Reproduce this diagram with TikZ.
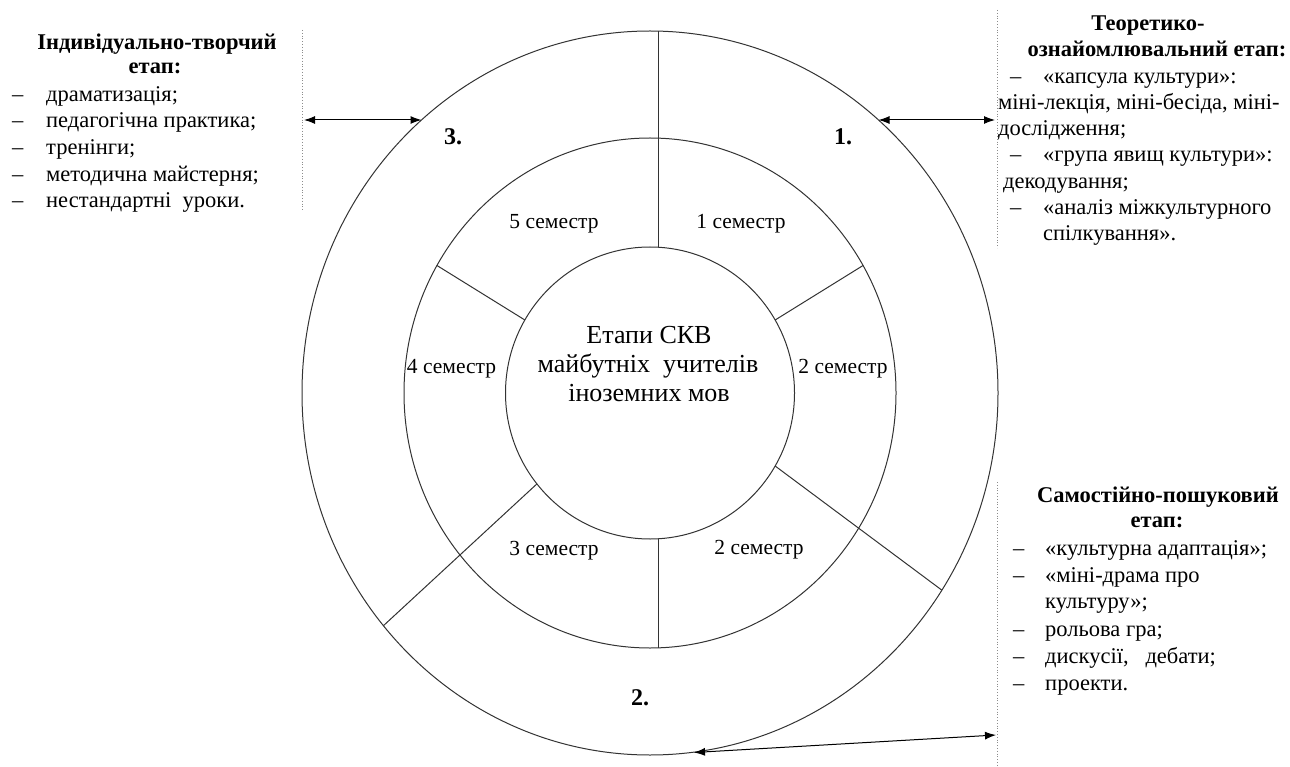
\documentclass[tikz,border=0pt]{standalone}
\usepackage{fontspec}
\setmainfont{Liberation Serif}
\usetikzlibrary{calc,arrows.meta}

\tikzset{
  ring/.style={draw=black!80, line width=1pt},
  divider/.style={draw=black!80, line width=1pt},
  frame/.style={draw=black!45, dotted, line width=0.8pt},
  link/.style={{Latex[length=11pt,width=8pt]}-{Latex[length=11pt,width=8pt]}, line width=1pt, black},
  item/.style={inner sep=0pt, anchor=base west, font=\fontsize{22.5pt}{27pt}\selectfont},
  head/.style={inner sep=0pt, anchor=base, font=\bfseries\fontsize{22.5pt}{27pt}\selectfont},
  sem/.style={inner sep=0pt, anchor=base, font=\fontsize{21.5pt}{26pt}\selectfont},
  stagenum/.style={inner sep=0pt, anchor=base, font=\bfseries\fontsize{24pt}{28pt}\selectfont},
  core/.style={inner sep=0pt, anchor=base, font=\fontsize{26pt}{30pt}\selectfont},
}

\begin{document}
\begin{tikzpicture}[x=1pt, y=-1pt]
\useasboundingbox (0,0) rectangle (1290,767);

% centre of the three rings
\coordinate (c) at (650,393);

% rings
\draw[ring] (c) ellipse [x radius=144.5pt, y radius=146pt];
\draw[ring] (c) ellipse [x radius=246pt, y radius=255pt];
\draw[ring] (c) ellipse [x radius=348pt, y radius=362pt];

% points where the dividers meet the rings
\coordinate (topOut) at (658,31.1);
\coordinate (topIn)  at (658,247.3);
\coordinate (botIn)  at (658,538.7);
\coordinate (botMid) at (658,647.9);
\coordinate (urIn)  at ($(c)+(30:144.5pt and 146pt)$);
\coordinate (urMid) at ($(c)+(30:246pt and 255pt)$);
\coordinate (ulIn)  at ($(c)+(150:144.5pt and 146pt)$);
\coordinate (ulMid) at ($(c)+(150:246pt and 255pt)$);
\coordinate (lrIn)  at ($(c)+(-30:144.5pt and 146pt)$);
\coordinate (lrOut) at ($(c)+(-33:348pt and 362pt)$);
\coordinate (llIn)  at ($(c)+(218.5:144.5pt and 146pt)$);
\coordinate (llOut) at ($(c)+(220:348pt and 362pt)$);

% dividers between the semesters and stages
\draw[divider] (topOut) -- (topIn);
\draw[divider] (botIn) -- (botMid);
\draw[divider] (urIn) -- (urMid);
\draw[divider] (ulIn) -- (ulMid);
\draw[divider] (lrIn) -- (lrOut);
\draw[divider] (llIn) -- (llOut);

% centre label
\node[core] (core1) at (649,343) {Етапи СКВ};
\node[core] (core2) at (648,372) {майбутніх\ \ учителів};
\node[core] (core3) at (649,401) {іноземних мов};

% semesters
\node[sem] (s5)  at (554,229) {5 семестр};
\node[sem] (s1)  at (741,229) {1 семестр};
\node[sem] (s4)  at (451.5,373) {4 семестр};
\node[sem] (s2a) at (843,373) {2 семестр};
\node[sem] (s3)  at (554,555) {3 семестр};
\node[sem] (s2b) at (759,554) {2 семестр};

% stage numbers
\node[stagenum] (n3) at (453,145) {3.};
\node[stagenum] (n1) at (843,145) {1.};
\node[stagenum] (n2) at (640,705) {2.};

% text frames
\coordinate (fL1) at (302,30);   \coordinate (fL2) at (302,211);
\coordinate (fR1) at (997,10);   \coordinate (fR2) at (997,248);
\coordinate (fB1) at (997,482);  \coordinate (fB2) at (997,767);
\draw[frame] (fL1) -- (fL2);
\draw[frame] (fR1) -- (fR2);
\draw[frame] (fB1) -- (fB2);

% arrows between the frames and the outer ring
\coordinate (aL1) at (304,120);  \coordinate (aL2) at (421.5,120);
\coordinate (aR1) at (878.5,120); \coordinate (aR2) at (995,120);
\coordinate (aB1) at (694,752.5); \coordinate (aB2) at (996,735);
\draw[link] (aL1) -- (aL2);
\draw[link] (aR1) -- (aR2);
\draw[link] (aB1) -- (aB2);

% stage 3: individual-creative
\node[head] (h3a) at (157,50) {Індивідуально-творчий};
\node[head] (h3b) at (155,74) {етап:};
\foreach \y/\t [count=\i] in {101.5/{драматизація;}, 128/{педагогічна практика;}, 155/{тренінги;}, 181.5/{методична майстерня;}, 207.5/{нестандартні\ \ уроки.}}{
  \node[item] (d3\i) at (12,\y) {–};
  \node[item] (t3\i) at (46,\y) {\t};
}

% stage 1: theoretical
\node[head] (h1a) at (1148,31) {Теоретико-};
\node[head] (h1b) at (1157,57) {ознайомлювальний етап:};
\node[item] (d11) at (1010,83.5) {–};
\node[item] (t11) at (1043,83.5) {«капсула культури»:};
\node[item] (t12) at (998,110) {міні-лекція, міні-бесіда, міні-};
\node[item] (t13) at (998,135.5) {дослідження;};
\node[item] (d14) at (1010,162) {–};
\node[item] (t14) at (1043,162) {«група явищ культури»:};
\node[item] (t15) at (1003,189) {декодування;};
\node[item] (d16) at (1010,215) {–};
\node[item] (t16) at (1043,215) {«аналіз міжкультурного};
\node[item] (t17) at (1043,241) {спілкування».};

% stage 2: independent search
\node[head] (h2a) at (1158,502) {Самостійно-пошуковий};
\node[head] (h2b) at (1157,527) {етап:};
\node[item] (d21) at (1013,555) {–};
\node[item] (t21) at (1045,555) {«культурна адаптація»;};
\node[item] (d22) at (1013,582) {–};
\node[item] (t22) at (1045,582) {«міні-драма про};
\node[item] (t23) at (1045,608) {культуру»;};
\node[item] (d24) at (1013,636.5) {–};
\node[item] (t24) at (1045,636.5) {рольова гра;};
\node[item] (d25) at (1013,663) {–};
\node[item] (t25) at (1045,663) {дискусії,\ \ \ дебати;};
\node[item] (d26) at (1013,690) {–};
\node[item] (t26) at (1045,690) {проекти.};
\end{tikzpicture}
\end{document}
